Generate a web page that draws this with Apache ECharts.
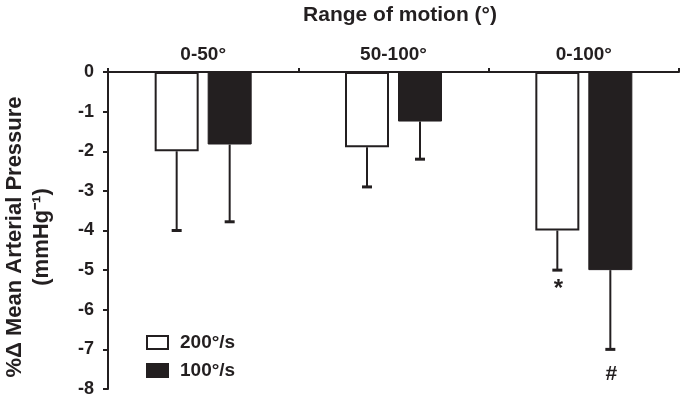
<!DOCTYPE html>
<html lang="en">
<head>
    <meta charset="UTF-8">
    <title>Range of motion</title>
    <script src="https://cdn.jsdelivr.net/npm/echarts@6/dist/echarts.min.js"></script>
    <style>
        html, body { margin: 0; padding: 0; background: #fff; }
        #main { width: 681px; height: 403px; }
    </style>
</head>
<body>
<div id="main"></div>
<script type="text/javascript">
    // data
    var categories = ['0-50°', '50-100°', '0-100°'];
    var fast = [-2.0, -1.9, -4.0];       // 200°/s
    var slow = [-1.83, -1.25, -5.0];     // 100°/s
    var fastErr = [2.0, 1.0, 1.0];       // one-sided (downward) error
    var slowErr = [1.95, 0.95, 2.0];
    var fastMark = ['', '', '*'];
    var slowMark = ['', '', '#'];
    var yTicks = [0, -1, -2, -3, -4, -5, -6, -7, -8];

    var ink = '#231f20';
    var font = 'Liberation Sans, Arial, sans-serif';
    var barW = 44;
    var barGapPx = 9;

    var myChart = echarts.init(document.getElementById('main'));

    function errorSeries(name, values, errs, marks, side) {
        return {
            name: name + ' err',
            type: 'custom',
            silent: true,
            z: 5,
            data: values.map(function (v, i) { return [i, v, v - errs[i]]; }),
            renderItem: function (params, api) {
                var off = side * (barW + barGapPx) / 2;
                var top = api.coord([api.value(0), api.value(1)]);
                var bot = api.coord([api.value(0), api.value(2)]);
                var x = top[0] + off;
                var children = [
                    {type: 'line', shape: {x1: x, y1: top[1], x2: x, y2: bot[1]},
                        style: {stroke: ink, lineWidth: 2}},
                    {type: 'line', shape: {x1: x - 5, y1: bot[1], x2: x + 5, y2: bot[1]},
                        style: {stroke: ink, lineWidth: 3}}
                ];
                var mark = marks[params.dataIndex];
                if (mark) {
                    var star = mark === '*';
                    children.push({
                        type: 'text',
                        style: {
                            text: mark, x: x + 1, y: bot[1] + (star ? 7 : 14),
                            align: 'center', verticalAlign: 'top',
                            fill: ink, font: 'bold ' + (star ? 24 : 21) + 'px ' + font
                        }
                    });
                }
                return {type: 'group', children: children};
            }
        };
    }

    var option = {
        animation: false,
        title: {
            text: 'Range of motion (°)',
            left: 395,
            textAlign: 'center',
            top: 0,
            textStyle: {fontFamily: font, fontSize: 21, fontWeight: 'bold', color: ink}
        },
        legend: {
            orient: 'vertical',
            left: 141,
            top: 328,
            itemWidth: 21,
            itemHeight: 13,
            itemGap: 9,
            icon: 'rect',
            data: ['200°/s', '100°/s'],
            textStyle: {
                fontFamily: font, fontSize: 19, fontWeight: 'bold', color: ink,
                lineHeight: 19, padding: [0, 0, 0, 7]
            }
        },
        grid: {
            left: 108,
            right: 2,
            top: 72,
            bottom: 14,
            outerBoundsMode: 'none'
        },
        xAxis: {
            type: 'category',
            position: 'top',
            data: categories,
            axisLine: {lineStyle: {color: ink, width: 2}},
            axisTick: {show: true, length: 4, lineStyle: {color: ink, width: 2}},
            axisLabel: {
                margin: 8,
                fontFamily: font, fontSize: 19, fontWeight: 'bold', color: ink
            },
            splitLine: {show: false}
        },
        yAxis: {
            type: 'value',
            min: yTicks[yTicks.length - 1],
            max: yTicks[0],
            interval: 1,
            name: '%Δ Mean Arterial Pressure\n(mmHg⁻¹)',
            nameLocation: 'middle',
            nameRotate: 90,
            nameGap: 53,
            nameTextStyle: {
                fontFamily: font, fontSize: 22, fontWeight: 'bold', color: ink,
                lineHeight: 27, padding: [0, 13, 0, 0]
            },
            axisLine: {show: true, lineStyle: {color: ink, width: 2}},
            axisTick: {show: true, length: 5, lineStyle: {color: ink, width: 2}},
            axisLabel: {
                margin: 14,
                fontFamily: font, fontSize: 18, fontWeight: 'bold', color: ink
            },
            splitLine: {show: false}
        },
        series: [
            {
                name: '200°/s',
                type: 'bar',
                barWidth: barW,
                barGap: (barGapPx / barW * 100) + '%',
                data: fast,
                itemStyle: {color: '#ffffff', borderColor: ink, borderWidth: 2}
            },
            {
                name: '100°/s',
                type: 'bar',
                barWidth: barW,
                data: slow,
                itemStyle: {color: ink, borderColor: ink, borderWidth: 1}
            },
            errorSeries('200°/s', fast, fastErr, fastMark, -1),
            errorSeries('100°/s', slow, slowErr, slowMark, 1)
        ]
    };
    myChart.setOption(option);
</script>
</body>
</html>
